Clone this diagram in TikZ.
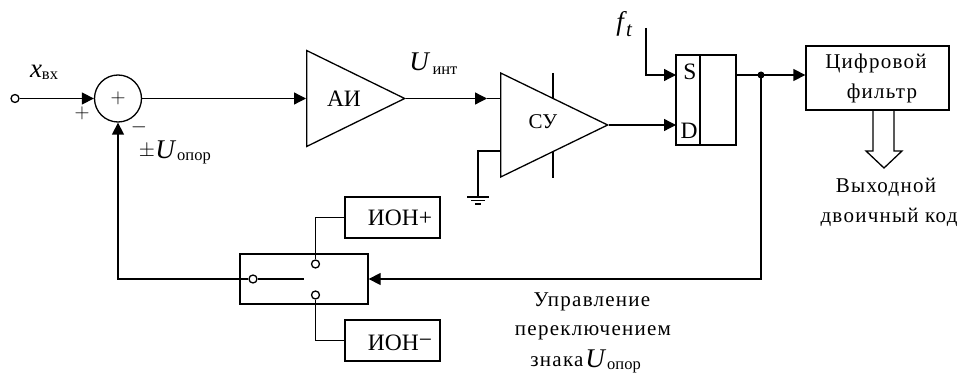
\documentclass[tikz,border=0pt]{standalone}
\usepackage{fontspec}
\setmainfont{Liberation Serif}
\usetikzlibrary{arrows.meta,shapes.geometric}
\tikzset{
  wire/.style={line width=1.3pt},
  arr/.style={wire,-{Triangle[length=12pt,width=12pt]}},
  box/.style={draw,wire,rectangle,inner sep=0pt},
  amp/.style={draw,wire,isosceles triangle,isosceles triangle stretches,inner sep=0pt,anchor=west},
  pin/.style={draw,wire,circle,fill=white,inner sep=0pt,minimum size=8pt},
  lbl/.style={inner sep=0pt,font=\fontsize{21}{24}\selectfont},
  big/.style={inner sep=0pt,font=\fontsize{23.5}{26}\selectfont},
  sp/.style={inner sep=0pt,font=\fontsize{21}{24}\selectfont\addfontfeature{LetterSpace=6}},
  sub/.style={inner sep=0pt,font=\fontsize{16.5}{18}\selectfont},
  sym/.style={inner sep=0pt,font=\fontsize{27}{28}\selectfont\itshape}
}
\begin{document}
\begin{tikzpicture}[x=1pt,y=-1pt]
\useasboundingbox (0,0) rectangle (962,374);

% input and sum
\node[pin] (inPin) at (15,98.5) {};
\node[draw,wire,circle,minimum size=47pt,inner sep=0pt] (sum) at (118,98.5) {};
\node[lbl] (sumPlus) at (118,98) {$+$};
\node[lbl] (plusIn) at (82,113) {$+$};
\node[lbl] (minusIn) at (139,127) {$-$};
\node[sym] (xVar) at (36,71) {x};
\node[sub] (xSub) at (50,76) {вх};
\node[lbl] (pmSign) at (147,151) {$\pm$};
\node[sym] (uOp) at (165,150) {U};
\node[sub] (uOpSub) at (194,158) {опор};

% integrator
\node[amp,minimum width=96pt,minimum height=98pt] (ai) at (306,98.5) {};
\node[big] (aiText) at (344,99) {АИ};
\node[sym] (uInt) at (419,62) {U};
\node[sub] (uIntSub) at (445,71) {инт};

% comparator
\node[amp,minimum width=104pt,minimum height=107pt] (su) at (500,125) {};
\node[lbl] (suText) at (543,122) {СУ};
\coordinate (suIn) at (500,98.5);
\coordinate (suTip) at (487,98.5);
\coordinate (suGnd) at (500,151);
\coordinate (gnd) at (478,197);
\draw[wire] (553,73) -- (553,99);
\draw[wire] (553,151) -- (553,178);

% flip-flop
\node[box,minimum width=60pt,minimum height=90pt] (ff) at (706,100) {};
\draw[wire] (700,55) -- (700,145);
\node[big] (sText) at (690,72) {S};
\node[big] (dText) at (689,131) {D};
\coordinate (ffS) at (676,75);
\coordinate (ffD) at (676,125);
\coordinate (ffQ) at (736,75);
\coordinate (ftIn) at (646,28);
\node[sym] (fVar) at (620,24) {f};
\node[lbl] (fSub) at (629,31) {\itshape t};

% filter
\node[box,minimum width=143pt,minimum height=64pt] (flt) at (877.5,78) {};
\node[sp] (fltA) at (876,63) {Цифровой};
\node[sp] (fltB) at (882,93) {фильтр};
\draw[wire] (873,110) -- (873,151) -- (866,151) -- (884,168) -- (902,151) -- (894,151) -- (894,110);
\node[sp] (outA) at (886,187) {Выходной};
\node[sp] (outB) at (889,217) {двоичный код};

% switch
\node[box,minimum width=128pt,minimum height=50pt] (sw) at (304,279) {};
\node[pin] (swCom) at (253,279) {};
\node[pin] (swUp) at (315.5,264) {};
\node[pin] (swDn) at (315.5,295) {};
\coordinate (swArm) at (304,279);
\node[box,minimum width=95pt,minimum height=41pt] (ionP) at (392.5,217.5) {};
\node[big] (ionPText) at (400,218) {ИОН+};
\node[box,minimum width=95pt,minimum height=41pt] (ionM) at (392.5,340.5) {};
\node[big] (ionMText) at (400,343) {ИОН\raisebox{3pt}{−}};

% control text
\node[sp] (ctlA) at (592,302) {Управление};
\node[sp] (ctlB) at (593,333) {переключением};
\node[sp] (ctlC) at (557,362) {знака};
\node[sym] (uCtl) at (595,359) {U};
\node[sub] (uCtlSub) at (624,367) {опор};

% connectors
\draw[arr] (inPin) -- (sum);
\draw[arr] (sum) -- (ai.west);
\draw[arr] (ai.apex) -- (suTip);
\draw[wire] (suTip) -- (suIn);
\draw[wire] (suGnd) -| (gnd);
\draw[wire] (467,197) -- (489,197);
\draw[wire] (471,200.5) -- (485,200.5);
\draw[wire] (475,204) -- (481,204);
\draw[arr] (su.apex) -- (ffD);
\draw[arr] (ftIn) |- (ffS);
\draw[arr] (ffQ) -- (ffQ -| flt.west);
\fill (761,75) circle (3.5pt);
\draw[arr] (761,75) |- (sw.east);
\draw[arr] (swCom) -| (sum);
\draw[wire] (swCom) -- (swArm);
\draw[wire] (ionP.west) -| (swUp);
\draw[wire] (ionM.west) -| (swDn);
\end{tikzpicture}
\end{document}
